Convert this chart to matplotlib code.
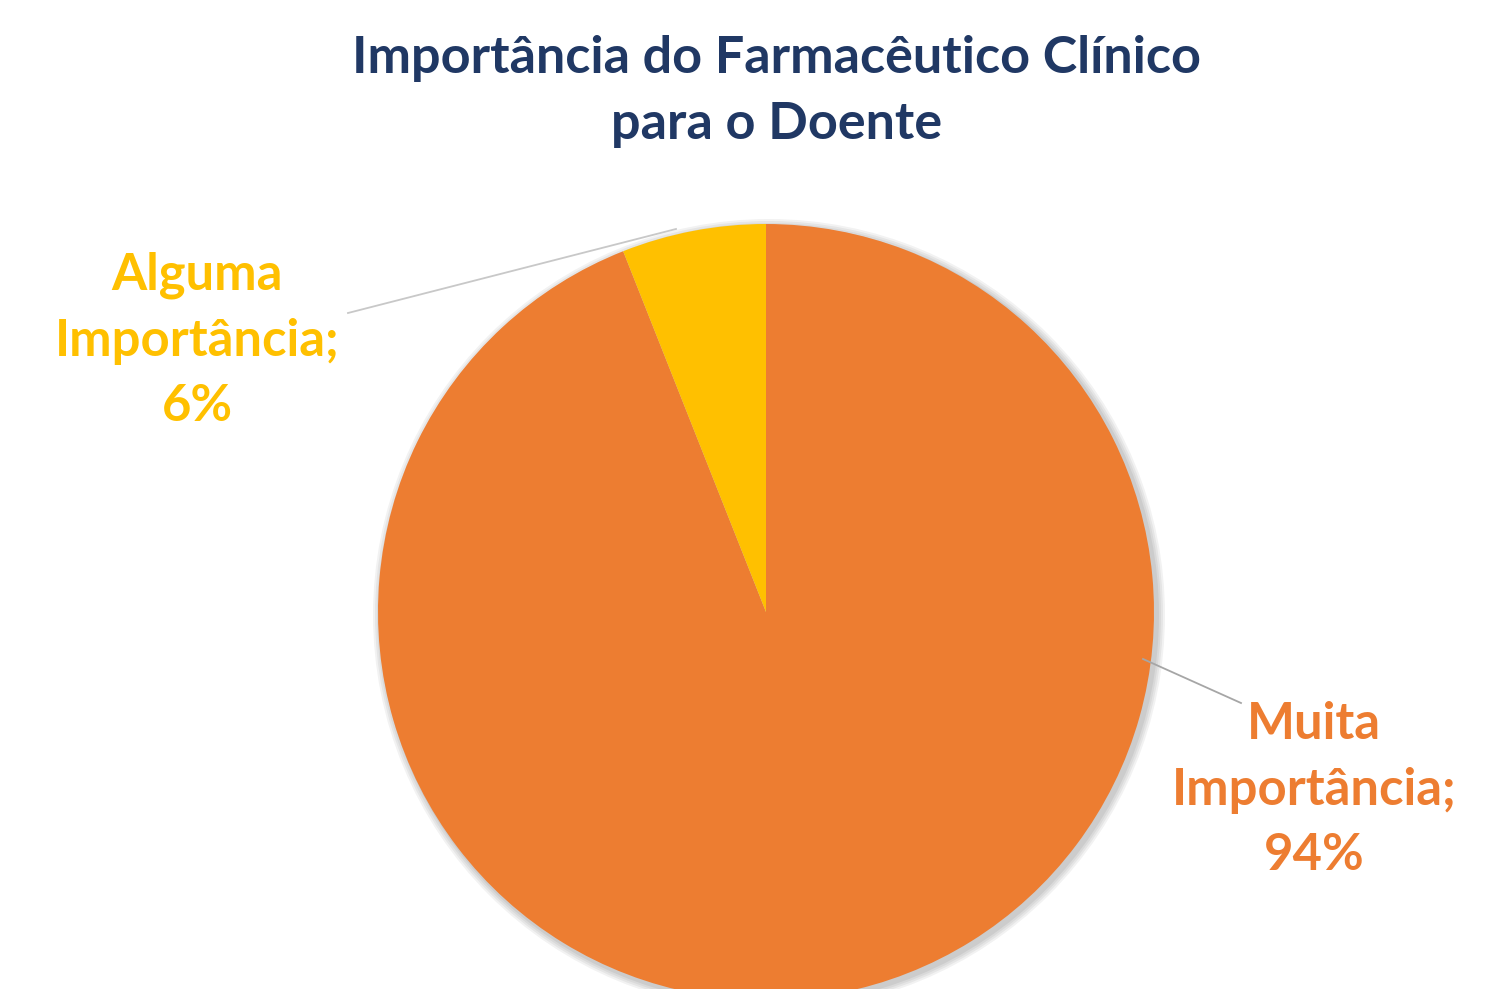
import matplotlib.pyplot as plt
from matplotlib.patches import Circle

categories = ['Muita\nImportância;', 'Alguma\nImportância;']
values = [94, 6]
colors = ['#ED7D31', '#FFC000']

plt.rcParams['font.family'] = ['Lato', 'DejaVu Sans']

fig = plt.figure(figsize=(15.05, 9.89), dpi=100)
ax = fig.add_axes([0, 0, 1, 1])

cx, cy, r = 766, 377, 388

# soft shadow
for i, a in enumerate([0.05, 0.05, 0.05, 0.06]):
    ax.add_patch(Circle((cx + 3, cy - 3), r + 8 - 2 * i, color='black', alpha=a, lw=0, zorder=1))

wedges, _ = ax.pie(values, colors=colors, startangle=90, counterclock=False,
                   center=(cx, cy), radius=r, frame=True,
                   wedgeprops=dict(linewidth=0, zorder=2))
ax.set_xlim(0, 1505)
ax.set_ylim(0, 989)
ax.set_aspect('equal')
ax.axis('off')

# leader lines
ax.plot([348, 676], [676, 760], color='#C8C8C8', lw=1.3, zorder=3)
ax.plot([1143, 1241], [330, 286], color='#A6A6A6', lw=1.3, zorder=3)

ax.text(197, 648, f'{categories[1]}\n{values[1]}%', color=colors[1], fontsize=36.5,
        fontweight='bold', ha='center', va='center', linespacing=1.49)
ax.text(1314, 199, f'{categories[0]}\n{values[0]}%', color=colors[0], fontsize=36.5,
        fontweight='bold', ha='center', va='center', linespacing=1.49)

fig.text(0.516, 0.907, 'Importância do Farmacêutico Clínico\npara o Doente',
         color='#203864', fontsize=37.5, fontweight='bold', ha='center', va='center',
         linespacing=1.5)

fig.savefig('out.png', dpi=100, facecolor='white')
